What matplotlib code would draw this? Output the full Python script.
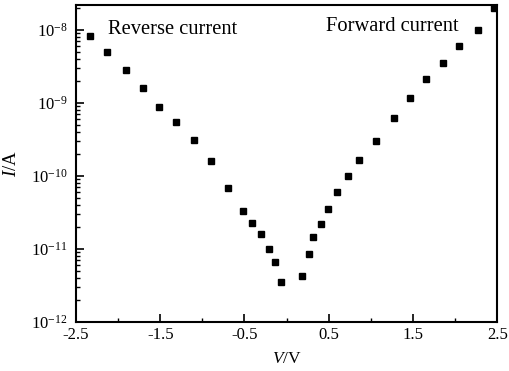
import matplotlib.pyplot as plt
from matplotlib.ticker import MultipleLocator, LogLocator, NullFormatter

plt.rcParams['font.family'] = 'Liberation Serif'
plt.rcParams['mathtext.fontset'] = 'custom'
plt.rcParams['mathtext.rm'] = 'Liberation Serif'
plt.rcParams['mathtext.it'] = 'Liberation Serif:italic'
plt.rcParams['axes.unicode_minus'] = False

# reverse branch (V, I)
v_rev = [-2.33, -2.13, -1.91, -1.71, -1.52, -1.31, -1.10, -0.90, -0.70,
         -0.52, -0.41, -0.31, -0.21, -0.14, -0.065]
i_rev = [8.2e-9, 4.9e-9, 2.83e-9, 1.58e-9, 8.9e-10, 5.4e-10, 3.1e-10, 1.58e-10,
         6.9e-11, 3.3e-11, 2.3e-11, 1.6e-11, 1.0e-11, 6.6e-12, 3.5e-12]

# forward branch
v_fwd = [0.18, 0.26, 0.31, 0.41, 0.49, 0.60, 0.73, 0.86, 1.06, 1.27, 1.47,
         1.66, 1.86, 2.05, 2.27, 2.46]
i_fwd = [4.3e-12, 8.5e-12, 1.46e-11, 2.2e-11, 3.55e-11, 6.0e-11, 1.0e-10,
         1.65e-10, 3.0e-10, 6.3e-10, 1.15e-9, 2.1e-9, 3.5e-9, 6.0e-9, 1.0e-8, 2.0e-8]

fig = plt.figure(figsize=(5.1, 3.71), dpi=100)
ax = fig.add_axes([0.149, 0.132, 0.826, 0.855])

ax.plot(v_rev, i_rev, 's', color='black', markersize=4.3)
ax.plot(v_fwd, i_fwd, 's', color='black', markersize=4.3)

ax.set_yscale('log')
ax.set_xlim(-2.5, 2.5)
ax.set_ylim(1e-12, 2.2e-8)

ax.set_xticks([-2.5, -1.5, -0.5, 0.5, 1.5, 2.5])
ax.xaxis.set_minor_locator(MultipleLocator(1.0))
ax.yaxis.set_minor_locator(LogLocator(base=10, subs=range(2, 10), numticks=20))
ax.yaxis.set_minor_formatter(NullFormatter())

ax.tick_params(which='both', direction='in', top=False, right=False, labelsize=12)
ax.tick_params(axis='y', which='major', pad=6)
ax.tick_params(which='major', length=6, width=1.2)
ax.tick_params(which='minor', length=3, width=1)
for s in ax.spines.values():
    s.set_linewidth(1.5)

ax.set_xlabel('$\\mathit{V}$/V', fontsize=12.5, labelpad=6)
ax.set_ylabel('$\\mathit{I}$/A', fontsize=13.5, labelpad=8)

ax.text(-2.12, 1.0e-8, 'Reverse current', fontsize=14.8, va='center')
ax.text(0.47, 1.12e-8, 'Forward current', fontsize=14.8, va='center')

fig.savefig('out.png', dpi=100)
